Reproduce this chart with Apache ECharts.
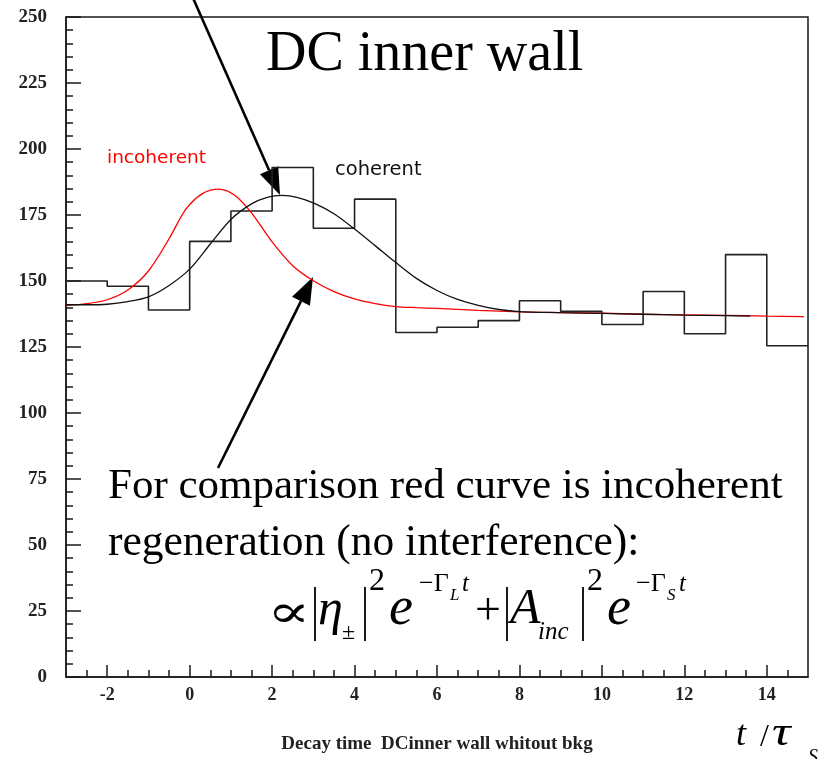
<!DOCTYPE html>
<html>
<head>
<meta charset="utf-8">
<script src="https://cdn.jsdelivr.net/npm/echarts@6/dist/echarts.min.js"></script>
<style>
  html, body { margin: 0; padding: 0; background: #fff; }
  #chart { width: 825px; height: 759px; }
</style>
</head>
<body>
<div id="chart"></div>
<script>
// Decay-time histogram (bins of width 1 in t/tau_S) with coherent and incoherent regeneration fits
const binEdges = [-3, -2, -1, 0, 1, 2, 3, 4, 5, 6, 7, 8, 9, 10, 11, 12, 13, 14, 15];
const binCounts = [150, 148, 139, 165, 176.5, 193, 170, 181, 130.5, 132.5, 135, 142.5, 138.5, 133.5, 146, 130, 160, 125.5];

// Coherent regeneration curve (black)
const cohT = [-3, -2.5, -2, -1.5, -1, -0.5, 0, 0.5, 1, 1.5, 1.9, 2.25, 2.6, 3, 3.5, 4, 4.5, 5, 5.5, 6, 6.5, 7, 7.5, 8, 9, 10, 11, 12, 13, 13.6];
const cohV = [141.0, 141.0, 141.2, 142.2, 144.0, 148.3, 154.5, 164.0, 173.3, 179.2, 181.8, 182.4, 181.7, 179.6, 175.5, 169.7, 163.4, 157.0, 151.0, 146.4, 143.0, 140.8, 139.2, 138.4, 138.0, 137.7, 137.4, 137.1, 136.9, 136.7];

// Incoherent regeneration curve (red)
const incT = [-3, -2.5, -2, -1.5, -1, -0.5, -0.1, 0.3, 0.7, 1.1, 1.5, 2, 2.5, 3, 3.5, 4, 4.5, 5, 5.5, 6, 7, 8, 9, 10, 11, 12, 13, 14, 14.9];
const incV = [140.7, 141.4, 142.9, 146.6, 153.8, 166.0, 177.0, 183.0, 184.8, 182.4, 175.8, 164.8, 155.8, 150.1, 146.0, 143.2, 141.4, 140.3, 139.9, 139.6, 138.9, 138.3, 138.0, 137.8, 137.4, 137.2, 137.0, 136.7, 136.5];

// Axis ticks
const xMajorTicks = [-2, 0, 2, 4, 6, 8, 10, 12, 14];
const xMinorTicks = [-2.5, -1.5, -1, -0.5, 0.5, 1, 1.5, 2.5, 3, 3.5, 4.5, 5, 5.5, 6.5, 7, 7.5, 8.5, 9, 9.5, 10.5, 11, 11.5, 12.5, 13, 13.5, 14.5];

const histData = [];
binCounts.forEach((c, i) => {
  histData.push([binEdges[i], c]);
  histData.push([binEdges[i + 1], c]);
});
const cohData = cohT.map((t, i) => [t, cohV[i]]);
const incData = incT.map((t, i) => [t, incV[i]]);

const SERIF = '"Liberation Serif", "Times New Roman", serif';
const INK = '#1a1a1a';

// text placed by its left edge and baseline
function txt(str, x, baseline, size, opts) {
  opts = opts || {};
  return {
    type: 'text',
    silent: true,
    x: x,
    y: baseline - 0.34 * size,
    scaleX: opts.scaleX || 1,
    style: {
      text: str,
      x: 0,
      y: 0,
      font: (opts.style || 'normal') + ' ' + (opts.weight || 'normal') + ' ' + size + 'px ' + (opts.family || SERIF),
      fill: opts.color || '#000',
      align: opts.align || 'left',
      verticalAlign: 'middle'
    }
  };
}

function vbar(x, y1, y2) {
  return { type: 'line', silent: true, shape: { x1: x, y1: y1, x2: x, y2: y2 }, style: { stroke: '#000', lineWidth: 1.8 } };
}

function arrow(x1, y1, x2, y2) {
  const dx = x2 - x1, dy = y2 - y1;
  const len = Math.sqrt(dx * dx + dy * dy);
  const ux = dx / len, uy = dy / len;
  const headLen = 27, headHalf = 10;
  const bx = x2 - ux * headLen, by = y2 - uy * headLen;
  return [
    { type: 'line', silent: true, shape: { x1: x1, y1: y1, x2: bx, y2: by }, style: { stroke: '#000', lineWidth: 2.6 } },
    { type: 'polygon', silent: true, shape: { points: [[x2, y2], [bx - uy * headHalf, by + ux * headHalf], [bx + uy * headHalf, by - ux * headHalf]] }, style: { fill: '#000' } }
  ];
}

const chart = echarts.init(document.getElementById('chart'));

const graphics = [].concat(
  arrow(193, -2, 280, 195),
  arrow(218, 468, 313, 277),
  [
    txt('DC inner wall', 266, 74, 56),
    txt('incoherent', 107, 164, 18.5, { family: '"DejaVu Sans", sans-serif', color: '#ff0000' }),
    txt('coherent', 335, 177, 19.5, { family: '"DejaVu Sans", sans-serif', color: '#111' }),
    txt('For comparison red curve is incoherent', 108, 501, 43),
    txt('regeneration (no interference):', 108, 558, 43.5),
    // formula
    txt('\u221D', 267, 631, 46, { family: '"DejaVu Serif", serif', scaleX: 1.4 }),
    vbar(315, 587, 641),
    txt('\u03B7', 318, 628, 50, { style: 'italic' }),
    txt('\u00B1', 342, 641, 24),
    vbar(365, 587, 641),
    txt('2', 369, 592, 32),
    txt('e', 389, 628, 54, { style: 'italic' }),
    txt('\u2212\u0393', 419, 593, 26),
    txt('L', 450, 601, 17, { style: 'italic' }),
    txt('t', 462, 593, 25, { style: 'italic' }),
    txt('+', 475, 628, 46),
    vbar(507, 587, 641),
    txt('A', 510, 627, 50, { style: 'italic' }),
    txt('inc', 538, 641, 25, { style: 'italic' }),
    vbar(583, 587, 641),
    txt('2', 587, 592, 32),
    txt('e', 607, 628, 54, { style: 'italic' }),
    txt('\u2212\u0393', 636, 593, 26),
    txt('S', 667, 601, 17, { style: 'italic' }),
    txt('t', 679, 593, 25, { style: 'italic' }),
    // axis unit
    txt('t', 736, 748, 36, { style: 'italic' }),
    txt('/', 760, 748, 32),
    txt('\u03C4', 772, 748, 40, { style: 'italic', scaleX: 1.3 }),
    txt('S', 808, 765, 20, { style: 'italic' })
  ]
);

chart.setOption({
  animation: false,
  backgroundColor: '#fff',
  grid: {
    left: 66, right: 17, top: 17, bottom: 79,
    show: true, borderColor: INK, borderWidth: 1.5, backgroundColor: 'transparent'
  },
  xAxis: [
    {
      type: 'value', min: -3, max: 15, position: 'bottom',
      splitLine: { show: false },
      axisLine: { show: true, onZero: false, lineStyle: { color: INK, width: 1.5 } },
      axisTick: { show: true, inside: true, length: 12, customValues: xMajorTicks, lineStyle: { color: INK, width: 1.5 } },
      axisLabel: {
        show: true, customValues: xMajorTicks, margin: 9,
        fontFamily: SERIF, fontWeight: 'bold', fontSize: 18, color: '#222'
      },
      name: 'Decay time  DCinner wall whitout bkg',
      nameLocation: 'middle', nameGap: 58,
      nameTextStyle: { fontFamily: SERIF, fontWeight: 'bold', fontSize: 19, color: '#222' }
    },
    {
      type: 'value', min: -3, max: 15, position: 'bottom',
      splitLine: { show: false },
      axisLine: { show: false, onZero: false },
      axisTick: { show: true, inside: true, length: 7, customValues: xMinorTicks, lineStyle: { color: INK, width: 1.5 } },
      axisLabel: { show: false }
    }
  ],
  yAxis: {
    type: 'value', min: 0, max: 250, interval: 25,
    splitLine: { show: false },
    axisLine: { show: true, onZero: false, lineStyle: { color: INK, width: 1.5 } },
    axisTick: { show: true, inside: true, length: 15, lineStyle: { color: INK, width: 1.5 } },
    minorTick: { show: true, splitNumber: 5, length: 7, lineStyle: { color: INK, width: 1.5 } },
    axisLabel: {
      margin: 19, fontFamily: SERIF, fontWeight: 'bold', fontSize: 19, color: '#222'
    }
  },
  series: [
    {
      name: 'data', type: 'line', xAxisIndex: 0, data: histData,
      showSymbol: false, symbol: 'none',
      lineStyle: { color: '#222', width: 1.6 }, z: 2
    },
    {
      name: 'incoherent', type: 'line', xAxisIndex: 0, data: incData,
      showSymbol: false, symbol: 'none', smooth: 0.3,
      lineStyle: { color: '#ff0000', width: 1.3 }, z: 3
    },
    {
      name: 'coherent', type: 'line', xAxisIndex: 0, data: cohData,
      showSymbol: false, symbol: 'none', smooth: 0.3,
      lineStyle: { color: '#111', width: 1.3 }, z: 4
    }
  ],
  graphic: graphics
});
</script>
</body>
</html>
